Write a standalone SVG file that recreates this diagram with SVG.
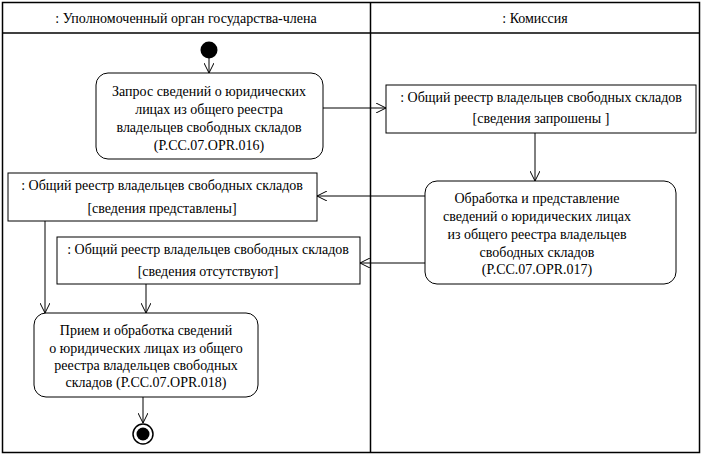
<svg xmlns="http://www.w3.org/2000/svg" width="703" height="457" viewBox="0 0 703 457">
<style>
text{font-family:"Liberation Serif","DejaVu Serif",serif;font-size:14px;fill:#000;text-anchor:middle}
.act{fill:#fff;stroke:#000;stroke-width:1}
.obj{fill:#fff;stroke:#000;stroke-width:1}
.c{fill:none;stroke:#000;stroke-width:1}
</style>
<defs>
<marker id="arr" viewBox="0 0 10 10" refX="10" refY="5" markerWidth="10" markerHeight="10" markerUnits="userSpaceOnUse" orient="auto">
<path d="M0,0 L10,5 L0,10" fill="none" stroke="#000" stroke-width="1"/>
</marker>
</defs>
<g id="frame">
<rect x="2.5" y="2.5" width="697" height="450" fill="#fff" stroke="#000" stroke-width="1.5"/>
<line x1="2.5" y1="33" x2="699.5" y2="33" stroke="#000" stroke-width="1.5"/>
<line x1="370.5" y1="2.5" x2="370.5" y2="452.5" stroke="#000" stroke-width="1.5"/>
<text x="186" y="23">: Уполномоченный орган государства-члена</text>
<text x="535" y="23">: Комиссия</text>
</g>
<g id="connectors">
<path class="c" d="M209,58 V73" marker-end="url(#arr)"/>
<path class="c" d="M323,108 H386" marker-end="url(#arr)"/>
<path class="c" d="M535,133 V181" marker-end="url(#arr)"/>
<path class="c" d="M425,196 H317" marker-end="url(#arr)"/>
<path class="c" d="M425,263 H360" marker-end="url(#arr)"/>
<path class="c" d="M45,221 V313" marker-end="url(#arr)"/>
<path class="c" d="M146,284 V313" marker-end="url(#arr)"/>
<path class="c" d="M143,397 V423" marker-end="url(#arr)"/>
</g>
<g id="start">
<circle cx="209" cy="50" r="8.5" fill="#000"/>
</g>
<g id="action1">
<rect class="act" x="96" y="73" width="227" height="86" rx="12"/>
<text x="209" y="96">Запрос сведений о юридических</text>
<text x="209" y="114">лицах из общего реестра</text>
<text x="209" y="132">владельцев свободных складов</text>
<text x="209" y="150">(P.CC.07.OPR.016)</text>
</g>
<g id="object1">
<rect class="obj" x="386" y="85" width="310" height="48"/>
<text x="541" y="102">: Общий реестр владельцев свободных складов</text>
<text x="541" y="123">[сведения запрошены ]</text>
</g>
<g id="action2">
<rect class="act" x="425" y="181" width="251" height="103" rx="12"/>
<text x="537" y="203">Обработка и представление</text>
<text x="537" y="221">сведений о юридических лицах</text>
<text x="537" y="239">из общего реестра владельцев</text>
<text x="537" y="257">свободных складов</text>
<text x="537" y="274">(P.CC.07.OPR.017)</text>
</g>
<g id="object2">
<rect class="obj" x="8" y="173" width="309" height="48"/>
<text x="162" y="190">: Общий реестр владельцев свободных складов</text>
<text x="162" y="213">[сведения представлены]</text>
</g>
<g id="object3">
<rect class="obj" x="57" y="237" width="303" height="47"/>
<text x="208" y="254">: Общий реестр владельцев свободных складов</text>
<text x="208" y="276">[сведения отсутствуют]</text>
</g>
<g id="action3">
<rect class="act" x="34" y="313" width="224" height="84" rx="12"/>
<text x="146" y="335">Прием и обработка сведений</text>
<text x="146" y="353">о юридических лицах из общего</text>
<text x="146" y="370">реестра владельцев свободных</text>
<text x="146" y="387">складов (P.CC.07.OPR.018)</text>
</g>
<g id="end">
<circle cx="143" cy="434" r="10" fill="#fff" stroke="#000" stroke-width="1.5"/>
<circle cx="143" cy="434" r="6.5" fill="#000"/>
</g>
</svg>
